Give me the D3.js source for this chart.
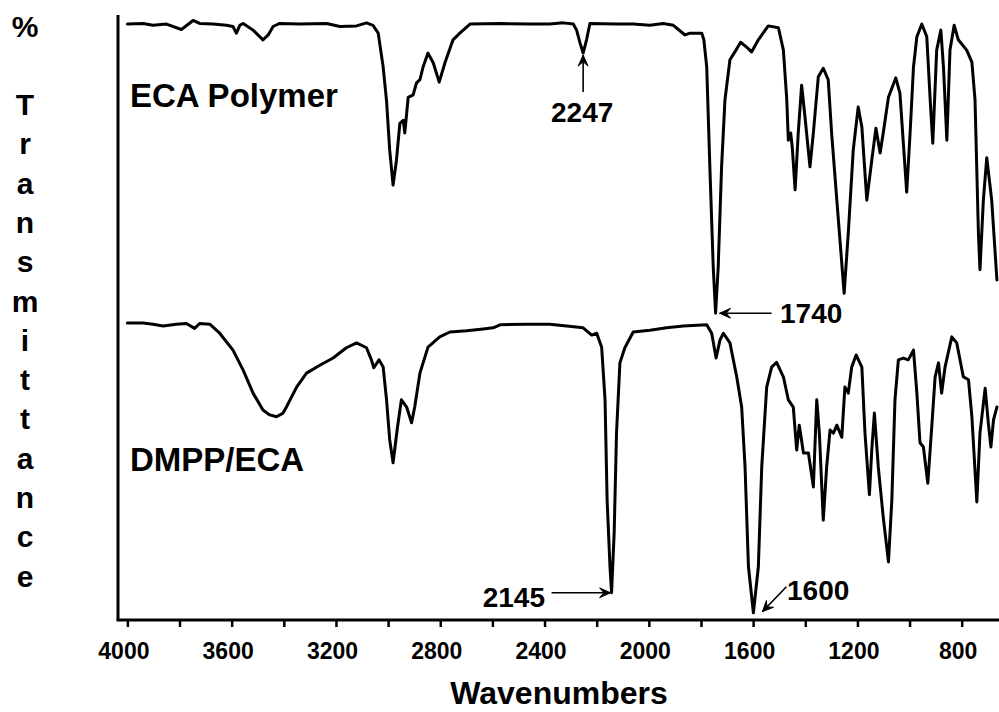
<!DOCTYPE html>
<html>
<head>
<meta charset="utf-8">
<script src="https://cdn.jsdelivr.net/npm/d3@7"></script>
<style>
  html, body { margin: 0; padding: 0; background: #fff; }
  svg { display: block; }
  text { font-family: "Liberation Sans", Arial, Helvetica, sans-serif; font-weight: bold; fill: #000; }
</style>
</head>
<body>
<svg id="chart" width="999" height="712"></svg>
<script>
// ---------------- DATA ----------------
// Wavenumber (cm^-1) axis ticks
const tickValues = [4000, 3800, 3600, 3400, 3200, 3000, 2800, 2600, 2400, 2200, 2000, 1800, 1600, 1400, 1200, 1000, 800];
const tickLabels = [4000, 3600, 3200, 2800, 2400, 2000, 1600, 1200, 800];

// ECA Polymer spectrum: wavenumbers and (offset) transmittance
const ecaWavenumbers = [4000, 3940, 3902, 3850, 3793, 3748, 3723, 3672, 3620, 3595, 3582, 3569, 3556, 3518, 3480, 3460, 3441, 3416, 3339, 3236, 3185, 3121, 3083, 3058, 3038, 3019, 3006, 2994, 2981, 2968, 2955, 2942, 2936, 2923, 2904, 2891, 2878, 2866, 2847, 2827, 2804, 2782, 2751, 2725, 2686, 2571, 2456, 2380, 2328, 2290, 2277, 2264, 2252, 2239, 2226, 2124, 2060, 1996, 1945, 1906, 1881, 1861, 1842, 1797, 1789, 1778, 1766, 1753, 1744, 1734, 1721, 1708, 1689, 1670, 1648, 1625, 1606, 1580, 1542, 1503, 1484, 1471, 1465, 1456, 1450, 1439, 1427, 1414, 1401, 1382, 1369, 1350, 1331, 1312, 1299, 1279, 1251, 1235, 1216, 1197, 1183, 1164, 1145, 1129, 1113, 1101, 1081, 1053, 1037, 1011, 998, 985, 972, 953, 934, 921, 911, 896, 880, 870, 857, 845, 829, 813, 781, 761, 749, 736, 730, 717, 704, 685, 665];
const ecaTransmittance = [98.5, 98.6, 98.3, 98.5, 97.6, 99.1, 98.6, 98.5, 98.3, 98.1, 97.0, 98.3, 98.6, 97.5, 95.9, 96.7, 98.1, 98.6, 98.5, 98.6, 98.1, 98.2, 98.7, 98.3, 97.0, 91.4, 85.8, 77.7, 71.9, 76.0, 82.1, 82.6, 80.5, 86.4, 86.8, 88.8, 89.3, 91.4, 93.7, 92.1, 88.9, 92.1, 95.9, 97.0, 98.5, 98.6, 98.5, 98.5, 98.7, 98.5, 97.5, 95.4, 93.7, 95.9, 98.6, 98.5, 98.5, 98.3, 98.6, 98.3, 97.4, 96.7, 97.0, 97.0, 95.9, 91.4, 74.9, 58.3, 50.7, 58.3, 74.9, 86.0, 92.6, 93.9, 95.5, 94.7, 93.9, 95.9, 98.2, 97.9, 94.2, 86.0, 79.3, 80.5, 78.2, 71.1, 80.5, 88.4, 83.1, 74.9, 80.5, 89.8, 91.2, 89.3, 80.5, 69.4, 54.0, 64.0, 77.7, 84.8, 81.5, 69.4, 76.0, 81.3, 77.2, 80.5, 86.4, 89.6, 87.1, 70.7, 80.5, 91.4, 96.4, 98.5, 96.4, 86.0, 78.8, 94.2, 97.5, 91.4, 79.3, 94.2, 98.3, 95.9, 94.2, 92.2, 86.0, 64.0, 57.9, 69.4, 76.4, 69.4, 56.2];

// DMPP/ECA spectrum: wavenumbers and (offset) transmittance
const dmppWavenumbers = [4000, 3940, 3902, 3863, 3812, 3774, 3742, 3723, 3684, 3646, 3595, 3556, 3518, 3480, 3454, 3428, 3403, 3390, 3351, 3313, 3262, 3211, 3160, 3121, 3083, 3064, 3055, 3035, 3019, 3006, 2994, 2981, 2964, 2949, 2929, 2910, 2898, 2878, 2847, 2802, 2763, 2699, 2635, 2597, 2571, 2469, 2380, 2315, 2252, 2219, 2200, 2181, 2168, 2160, 2149, 2143, 2133, 2124, 2111, 2092, 2060, 1996, 1932, 1868, 1778, 1759, 1742, 1727, 1714, 1689, 1663, 1644, 1631, 1618, 1599, 1580, 1567, 1548, 1529, 1510, 1484, 1465, 1446, 1433, 1423, 1407, 1388, 1369, 1356, 1346, 1331, 1318, 1305, 1292, 1279, 1260, 1248, 1235, 1222, 1205, 1183, 1171, 1154, 1145, 1135, 1120, 1101, 1081, 1068, 1056, 1043, 1024, 1005, 985, 972, 960, 947, 930, 915, 902, 889, 877, 864, 838, 819, 794, 774, 761, 742, 730, 710, 698, 688, 678, 665];
const dmppTransmittance = [49.1, 49.1, 48.9, 48.6, 48.9, 49.0, 48.2, 49.0, 48.9, 47.4, 44.6, 41.3, 37.5, 34.7, 33.9, 33.6, 34.2, 35.2, 38.5, 40.8, 42.1, 43.3, 45.0, 45.8, 45.0, 43.0, 41.7, 43.0, 41.8, 36.4, 29.8, 26.0, 31.9, 36.4, 35.2, 32.6, 35.2, 40.8, 45.1, 46.8, 47.6, 47.8, 48.1, 48.3, 48.8, 48.9, 48.9, 48.6, 48.3, 47.1, 47.4, 45.1, 36.4, 19.8, 8.8, 4.5, 14.4, 30.9, 42.5, 45.0, 47.6, 47.9, 48.3, 48.6, 48.8, 47.4, 43.3, 46.3, 47.4, 45.8, 40.2, 35.2, 25.3, 8.8, 1.2, 8.8, 25.3, 38.5, 41.8, 42.6, 40.2, 36.4, 35.2, 28.1, 32.2, 27.6, 27.6, 22.0, 36.4, 30.9, 16.5, 25.3, 31.4, 30.9, 32.2, 30.2, 38.5, 37.5, 41.8, 43.8, 41.8, 30.9, 20.7, 28.1, 34.2, 25.3, 17.0, 9.6, 19.8, 36.4, 43.0, 43.3, 43.0, 44.6, 37.5, 29.3, 28.6, 22.6, 31.9, 40.2, 42.5, 37.5, 41.8, 46.8, 45.8, 40.2, 39.7, 33.6, 19.5, 30.9, 38.3, 32.6, 28.6, 33.1, 35.2];

const seriesNames = ["ECA Polymer", "DMPP/ECA"];
const peakLabels = ["2247", "1740", "2145", "1600"];
const peakWavenumbers = [2252, 1744, 2143, 1599];

// ---------------- CHART ----------------
const svg = d3.select("#chart");
const mLeft = 118, mRight = 999, mTop = 15, mBottom = 620;

const x = d3.scaleLinear().domain([4036, 657]).range([mLeft, mRight]);
const y = d3.scaleLinear().domain([0, 100]).range([mBottom, mTop]);

const line = d3.line().x(d => x(d[0])).y(d => y(d[1])).curve(d3.curveLinear);

const eca = ecaWavenumbers.map((w, i) => [w, ecaTransmittance[i]]);
const dmpp = dmppWavenumbers.map((w, i) => [w, dmppTransmittance[i]]);

const plot = svg.append("g");
plot.append("defs").append("clipPath").attr("id", "clip")
  .append("rect").attr("x", mLeft).attr("y", 0).attr("width", mRight - mLeft).attr("height", mBottom);

[eca, dmpp].forEach(s => {
  plot.append("path").datum(s)
    .attr("clip-path", "url(#clip)")
    .attr("d", line)
    .attr("fill", "none").attr("stroke", "#000")
    .attr("stroke-width", 3).attr("stroke-linejoin", "round").attr("stroke-linecap", "round");
});

// Axes
const xAxis = d3.axisBottom(x).tickValues(tickValues).tickSize(7).tickFormat("");
const gx = svg.append("g").attr("transform", `translate(0,${mBottom})`).call(xAxis);
gx.select(".domain").remove();
gx.selectAll(".tick line").attr("stroke", "#000").attr("stroke-width", 2.5);

svg.append("line").attr("x1", mLeft - 1.5).attr("x2", mRight).attr("y1", mBottom).attr("y2", mBottom)
  .attr("stroke", "#000").attr("stroke-width", 3);
svg.append("line").attr("x1", mLeft).attr("x2", mLeft).attr("y1", mTop).attr("y2", mBottom)
  .attr("stroke", "#000").attr("stroke-width", 3);

svg.append("g").selectAll("text").data(tickLabels).join("text")
  .attr("x", d => x(d) - 3.5).attr("y", 659)
  .attr("text-anchor", "middle").attr("font-size", 23)
  .text(d => d);

svg.append("text").attr("x", 559).attr("y", 704).attr("text-anchor", "middle")
  .attr("font-size", 32).text("Wavenumbers");

// Y label stacked vertically
const yl = svg.append("text").attr("font-size", 30).attr("text-anchor", "middle");
yl.append("tspan").attr("x", 25).attr("y", 37).text("%");
"Transmittance".split("").forEach((c, i) => {
  yl.append("tspan").attr("x", 25).attr("y", 115 + i * 39.3).text(c);
});

// Series labels
svg.append("text").attr("x", 130).attr("y", 107).attr("font-size", 33).text(seriesNames[0]);
svg.append("text").attr("x", 130).attr("y", 471).attr("font-size", 33).text(seriesNames[1]);

// Annotations
function arrow(x1, y1, x2, y2) {
  const g = svg.append("g");
  g.append("line").attr("x1", x1).attr("y1", y1).attr("x2", x2).attr("y2", y2)
    .attr("stroke", "#000").attr("stroke-width", 1.6);
  const a = Math.atan2(y2 - y1, x2 - x1), L = 12, sp = 0.42;
  const p1 = [x2 - L * Math.cos(a - sp), y2 - L * Math.sin(a - sp)];
  const p2 = [x2 - L * Math.cos(a + sp), y2 - L * Math.sin(a + sp)];
  const pm = [x2 - L * 0.55 * Math.cos(a), y2 - L * 0.55 * Math.sin(a)];
  g.append("path").attr("d", `M${p1}L${x2},${y2}L${p2}L${pm}Z`)
    .attr("fill", "#000").attr("stroke", "#000").attr("stroke-width", 1).attr("stroke-linejoin", "miter");
}
const ecaVal = w => eca.find(d => d[0] === w)[1];
const dmppVal = w => dmpp.find(d => d[0] === w)[1];

// 2247 (ECA)
{
  const px = x(peakWavenumbers[0]), py = y(ecaVal(peakWavenumbers[0])) + 1;
  arrow(px, py + 38, px, py + 1);
  svg.append("text").attr("x", px - 1).attr("y", 122).attr("text-anchor", "middle").attr("font-size", 28).text(peakLabels[0]);
}
// 1740 (ECA)
{
  const px = x(peakWavenumbers[1]) + 4, py = y(ecaVal(peakWavenumbers[1]));
  arrow(px + 52, py, px, py);
  svg.append("text").attr("x", 780).attr("y", 323).attr("font-size", 28).text(peakLabels[1]);
}
// 2145 (DMPP)
{
  const px = x(peakWavenumbers[2]), py = y(dmppVal(peakWavenumbers[2]));
  arrow(px - 60, py, px - 1, py);
  svg.append("text").attr("x", 545).attr("y", 607).attr("text-anchor", "end").attr("font-size", 28).text(peakLabels[2]);
}
// 1600 (DMPP)
{
  const px = x(peakWavenumbers[3]) + 9, py = y(dmppVal(peakWavenumbers[3])) - 1;
  arrow(px + 24, py - 25, px, py);
  svg.append("text").attr("x", 787).attr("y", 600).attr("font-size", 28).text(peakLabels[3]);
}
</script>
</body>
</html>
